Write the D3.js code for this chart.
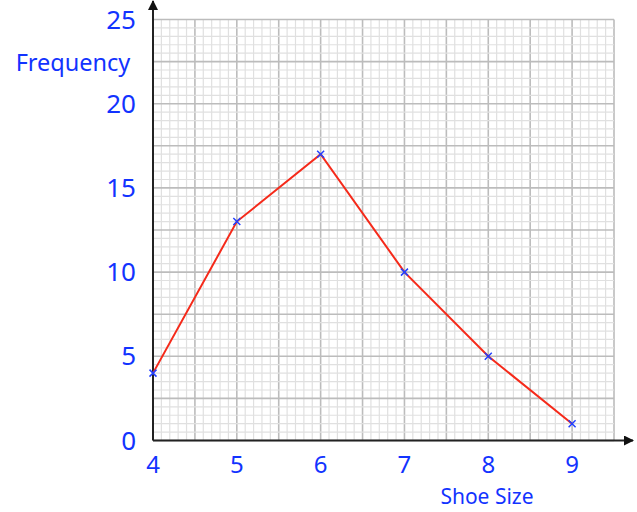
<!DOCTYPE html>
<html>
<head>
<meta charset="utf-8">
<script src="https://cdn.jsdelivr.net/npm/d3@7"></script>
<style>
 body { margin:0; background:#fff; }
 text { font-family: "Comic Sans MS", "Noto Sans", sans-serif; fill:#1233ff; }
</style>
</head>
<body>
<svg width="637" height="512"></svg>
<script>
// Data.
var shoeSizes = [4, 5, 6, 7, 8, 9];
var frequencies = [4, 13, 17, 10, 5, 1];
var xTicks = [4, 5, 6, 7, 8, 9];
var yTicks = [0, 5, 10, 15, 20, 25];

var svg = d3.select('svg');

var x = d3.scaleLinear().domain([4, 9.5]).range([153, 614]);
var y = d3.scaleLinear().domain([0, 25]).range([440.5, 19.5]);

// Grid: minor lines every 0.1 in x / 0.5 in y, darker every 0.5 / 2.5.
var grid = svg.append('g');
var minorX = d3.range(0, 56).map(function(i) { return 4 + i / 10; });
var minorY = d3.range(0, 51).map(function(i) { return i / 2; });

grid.selectAll('line.vx')
 .data(minorX)
 .enter().append('line')
 .attr('x1', function(d) { return x(d); })
 .attr('x2', function(d) { return x(d); })
 .attr('y1', y(25))
 .attr('y2', y(0))
 .attr('stroke', function(d, i) { return i % 5 === 0 ? '#bcbcbc' : '#e0e0e0'; })
 .attr('stroke-width', function(d, i) { return i % 5 === 0 ? 1.6 : 1.2; });

grid.selectAll('line.hy')
 .data(minorY)
 .enter().append('line')
 .attr('x1', x(4))
 .attr('x2', x(9.5))
 .attr('y1', function(d) { return y(d); })
 .attr('y2', function(d) { return y(d); })
 .attr('stroke', function(d, i) { return i % 5 === 0 ? '#bcbcbc' : '#e0e0e0'; })
 .attr('stroke-width', function(d, i) { return i % 5 === 0 ? 1.6 : 1.2; });

// Axes with arrowheads.
var defs = svg.append('defs');
defs.append('marker')
 .attr('id', 'arrow')
 .attr('viewBox', '0 0 10 10')
 .attr('refX', 9).attr('refY', 5)
 .attr('markerWidth', 5).attr('markerHeight', 5)
 .attr('orient', 'auto')
 .append('path')
 .attr('d', 'M0,0L10,5L0,10Z')
 .attr('fill', '#111');

svg.append('line')
 .attr('x1', x(4)).attr('y1', y(0))
 .attr('x2', 633).attr('y2', y(0))
 .attr('stroke', '#222').attr('stroke-width', 2)
 .attr('marker-end', 'url(#arrow)');

svg.append('line')
 .attr('x1', x(4)).attr('y1', y(0))
 .attr('x2', x(4)).attr('y2', 1)
 .attr('stroke', '#222').attr('stroke-width', 2)
 .attr('marker-end', 'url(#arrow)');

// Tick labels.
svg.append('g')
 .selectAll('text')
 .data(xTicks)
 .enter().append('text')
 .attr('x', function(d) { return x(d); })
 .attr('y', 473)
 .attr('text-anchor', 'middle')
 .attr('font-size', 24)
 .text(function(d) { return d; });

svg.append('g')
 .selectAll('text')
 .data(yTicks)
 .enter().append('text')
 .attr('x', 136)
 .attr('y', function(d) { return y(d) + 9; })
 .attr('text-anchor', 'end')
 .attr('font-size', 26)
 .text(function(d) { return d; });

svg.append('text')
 .attr('x', 73).attr('y', 71)
 .attr('text-anchor', 'middle')
 .attr('font-size', 23.5)
 .text('Frequency');

svg.append('text')
 .attr('x', 487).attr('y', 504)
 .attr('text-anchor', 'middle')
 .attr('font-size', 21)
 .text('Shoe Size');

// Frequency polygon.
var points = shoeSizes.map(function(s, i) { return [s, frequencies[i]]; });

svg.append('path')
 .datum(points)
 .attr('fill', 'none')
 .attr('stroke', '#f52a1a')
 .attr('stroke-width', 2)
 .attr('d', d3.line()
  .x(function(d) { return x(d[0]); })
  .y(function(d) { return y(d[1]); }));

var cross = 3.5;
svg.append('g')
 .selectAll('path')
 .data(points)
 .enter().append('path')
 .attr('d', function(d) {
  var cx = x(d[0]), cy = y(d[1]);
  return 'M' + (cx - cross) + ',' + (cy - cross) + 'L' + (cx + cross) + ',' + (cy + cross) +
   'M' + (cx - cross) + ',' + (cy + cross) + 'L' + (cx + cross) + ',' + (cy - cross);
 })
 .attr('stroke', '#2240ff')
 .attr('stroke-width', 1.5)
 .attr('fill', 'none');
</script>
</body>
</html>
